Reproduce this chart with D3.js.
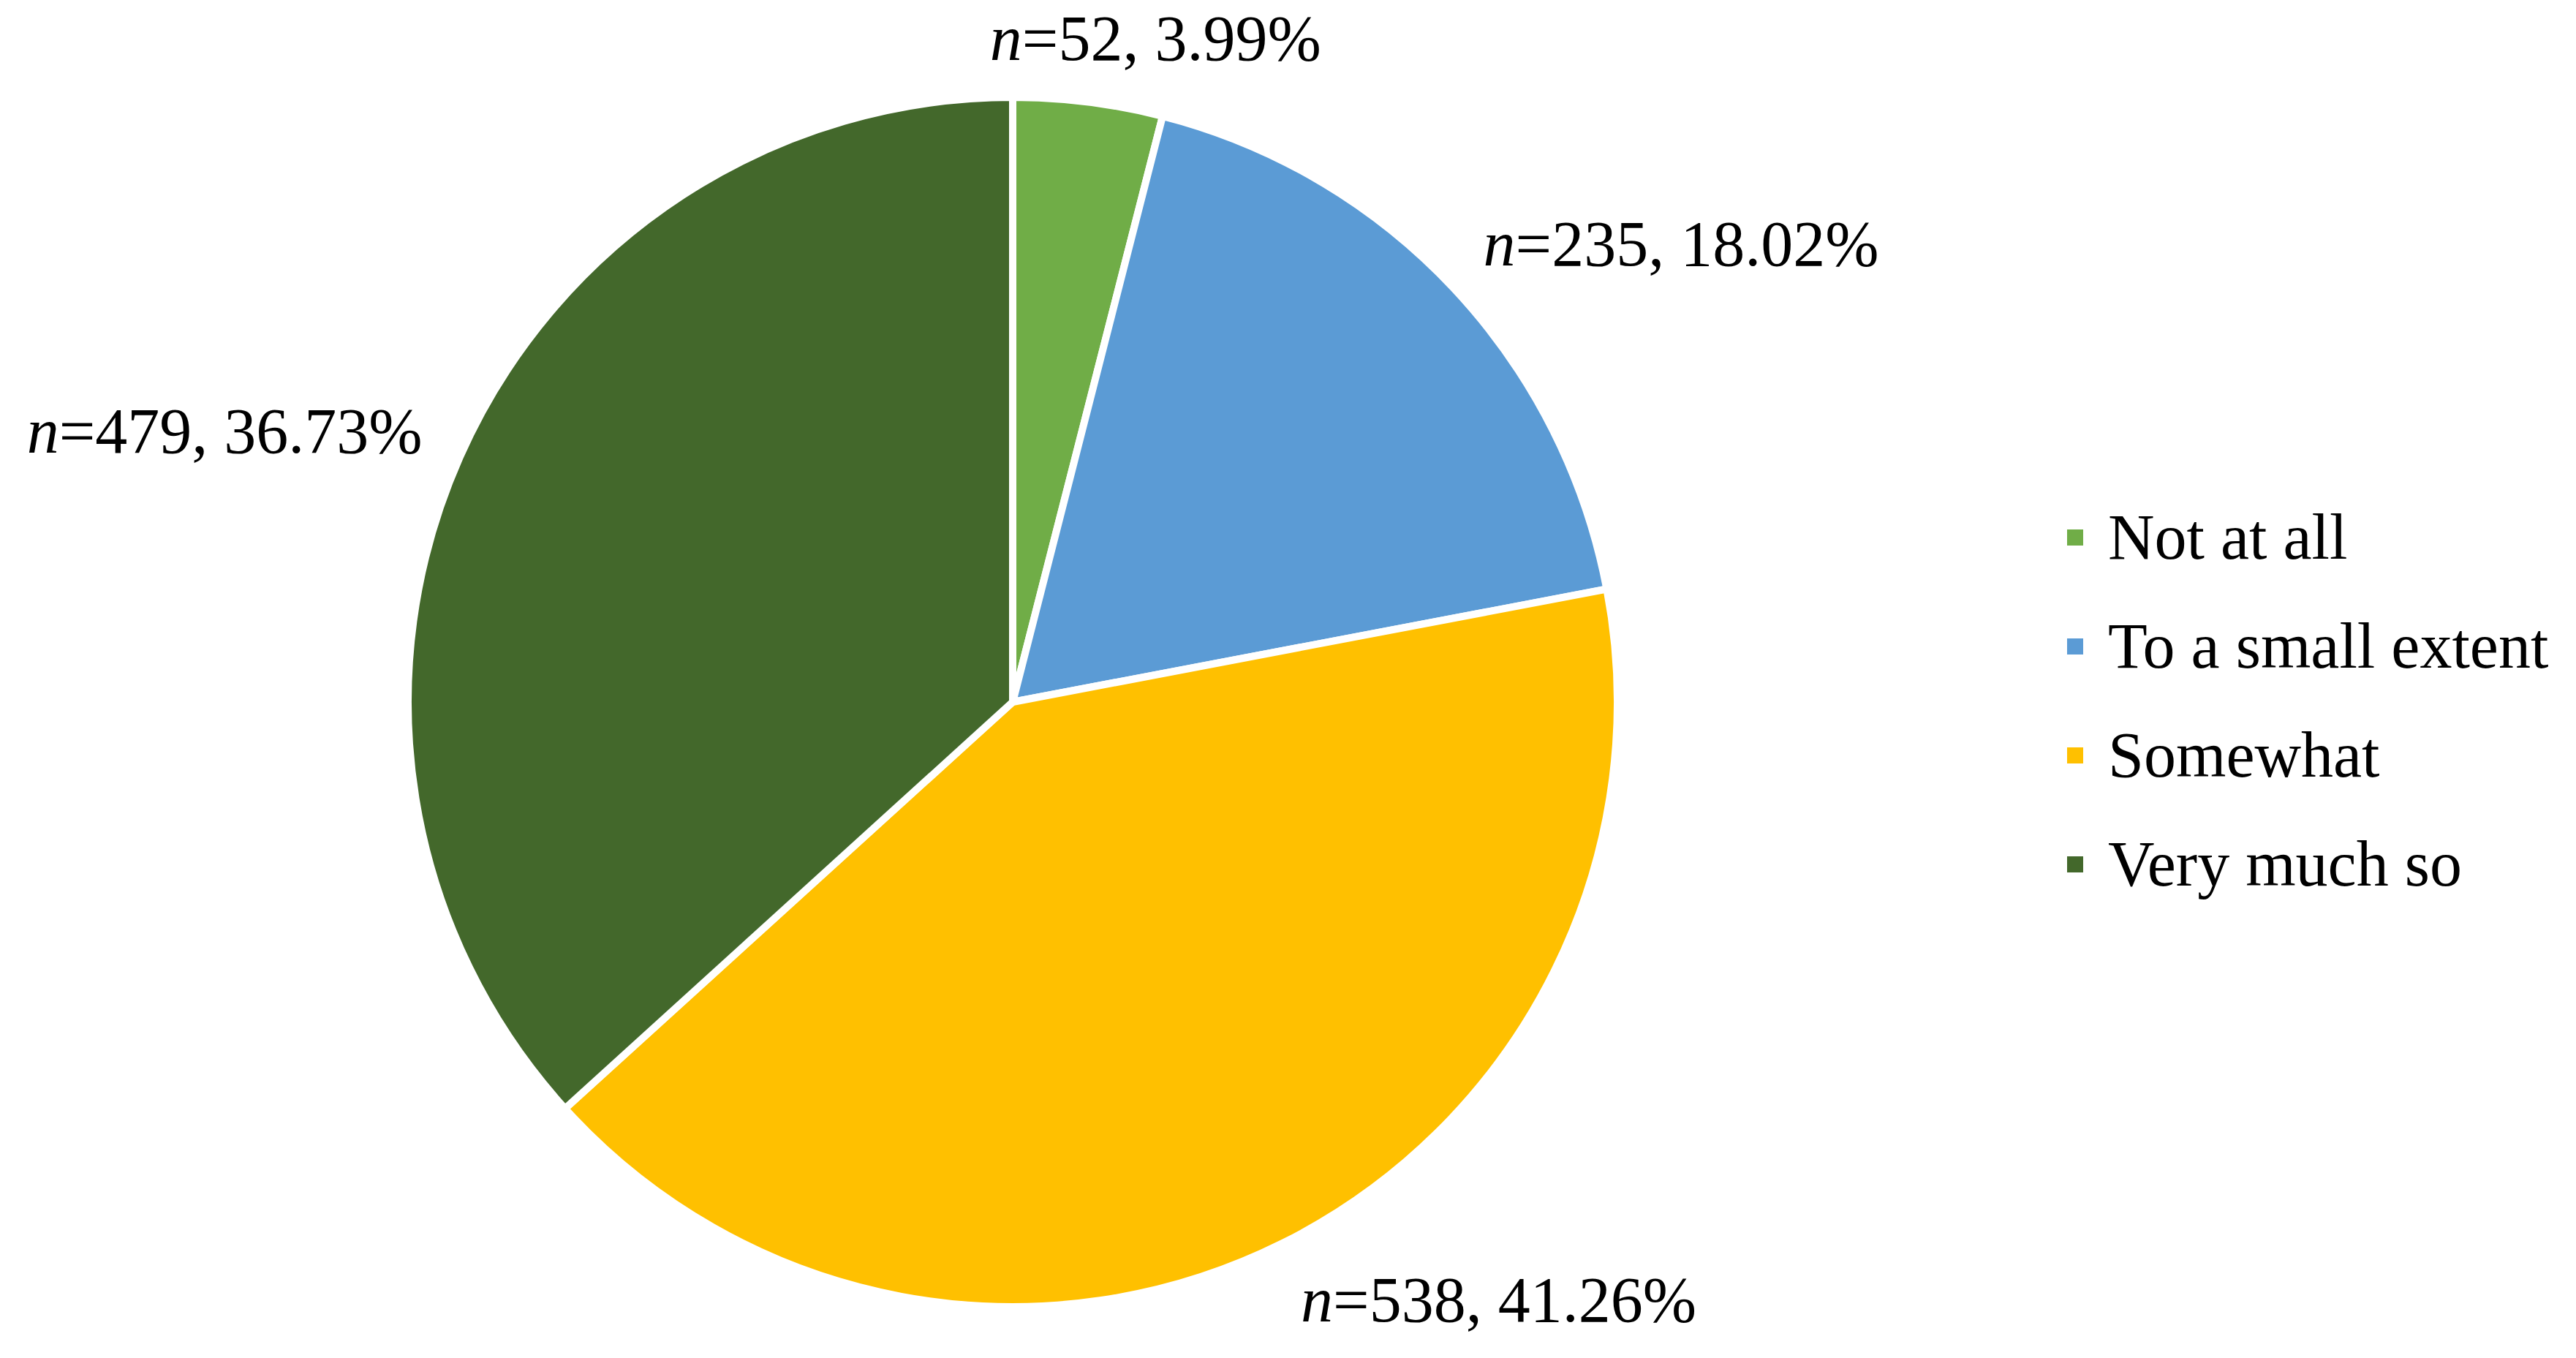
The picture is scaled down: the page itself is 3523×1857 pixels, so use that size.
<!DOCTYPE html>
<html>
<head>
<meta charset="utf-8">
<script src="https://cdn.jsdelivr.net/npm/d3@7"></script>
<style>
  html, body { margin: 0; padding: 0; background: #ffffff; }
  svg { display: block; }
  text { font-family: "Liberation Serif", "Times New Roman", serif; fill: #000; }
</style>
</head>
<body>
<script>
// ---- data ----
const categories = ["Not at all", "To a small extent", "Somewhat", "Very much so"];
const counts = [52, 235, 538, 479];
const percents = ["3.99", "18.02", "41.26", "36.73"];
const colors = ["#70AD47", "#5B9BD5", "#FFC000", "#43682B"];

// ---- layout ----
const W = 3523, H = 1857;
const cx = 1385, cy = 960, R = 827;
const labelR = 883;
const fontSize = 88;

const svg = d3.select("body").append("svg")
  .attr("width", W).attr("height", H)
  .attr("viewBox", `0 0 ${W} ${H}`);

const data = categories.map((c, i) => ({ cat: c, n: counts[i], pct: percents[i], color: colors[i] }));

const pie = d3.pie().value(d => d.n).sort(null);
const arcs = pie(data);
const arc = d3.arc().innerRadius(0).outerRadius(R);

const g = svg.append("g").attr("transform", `translate(${cx},${cy})`);

g.selectAll("path.slice")
  .data(arcs)
  .enter().append("path")
  .attr("class", "slice")
  .attr("d", arc)
  .attr("fill", d => d.data.color)
  .attr("stroke", "#ffffff")
  .attr("stroke-width", 10)
  .attr("stroke-linejoin", "miter");

// labels
const labels = g.selectAll("text.lbl")
  .data(arcs)
  .enter().append("text")
  .attr("class", "lbl")
  .attr("font-size", fontSize)
  .attr("text-anchor", "middle");

labels.append("tspan").attr("font-style", "italic").text("n");
labels.append("tspan").text(d => `=${d.data.n}, ${d.data.pct}%`);

labels.each(function(d) {
  const a = (d.startAngle + d.endAngle) / 2;
  const s = Math.sin(a), c = Math.cos(a);
  const w = this.getComputedTextLength();
  const h = fontSize * 0.7;
  const px = labelR * s, py = -labelR * c;
  const k = Math.max(-1, Math.min(1, s * 3));
  const x = px + (w / 2) * k;
  const y = py - (h / 2) * c;
  d3.select(this).attr("x", x).attr("y", y).attr("dy", "0.33em");
});

// legend
const legendX = 2838, legendTop = 735, legendStep = 149, sq = 22;
const ly = d3.scalePoint().domain(categories).range([legendTop, legendTop + legendStep * (categories.length - 1)]);
const leg = svg.append("g");
const items = leg.selectAll("g.item").data(data).enter().append("g").attr("class", "item")
  .attr("transform", d => `translate(${legendX},${ly(d.cat)})`);
items.append("rect")
  .attr("x", -sq / 2).attr("y", -sq / 2).attr("width", sq).attr("height", sq)
  .attr("fill", d => d.color);
items.append("text")
  .attr("x", 45).attr("y", 0).attr("dy", "0.33em")
  .attr("font-size", fontSize)
  .text(d => d.cat);
</script>
</body>
</html>
